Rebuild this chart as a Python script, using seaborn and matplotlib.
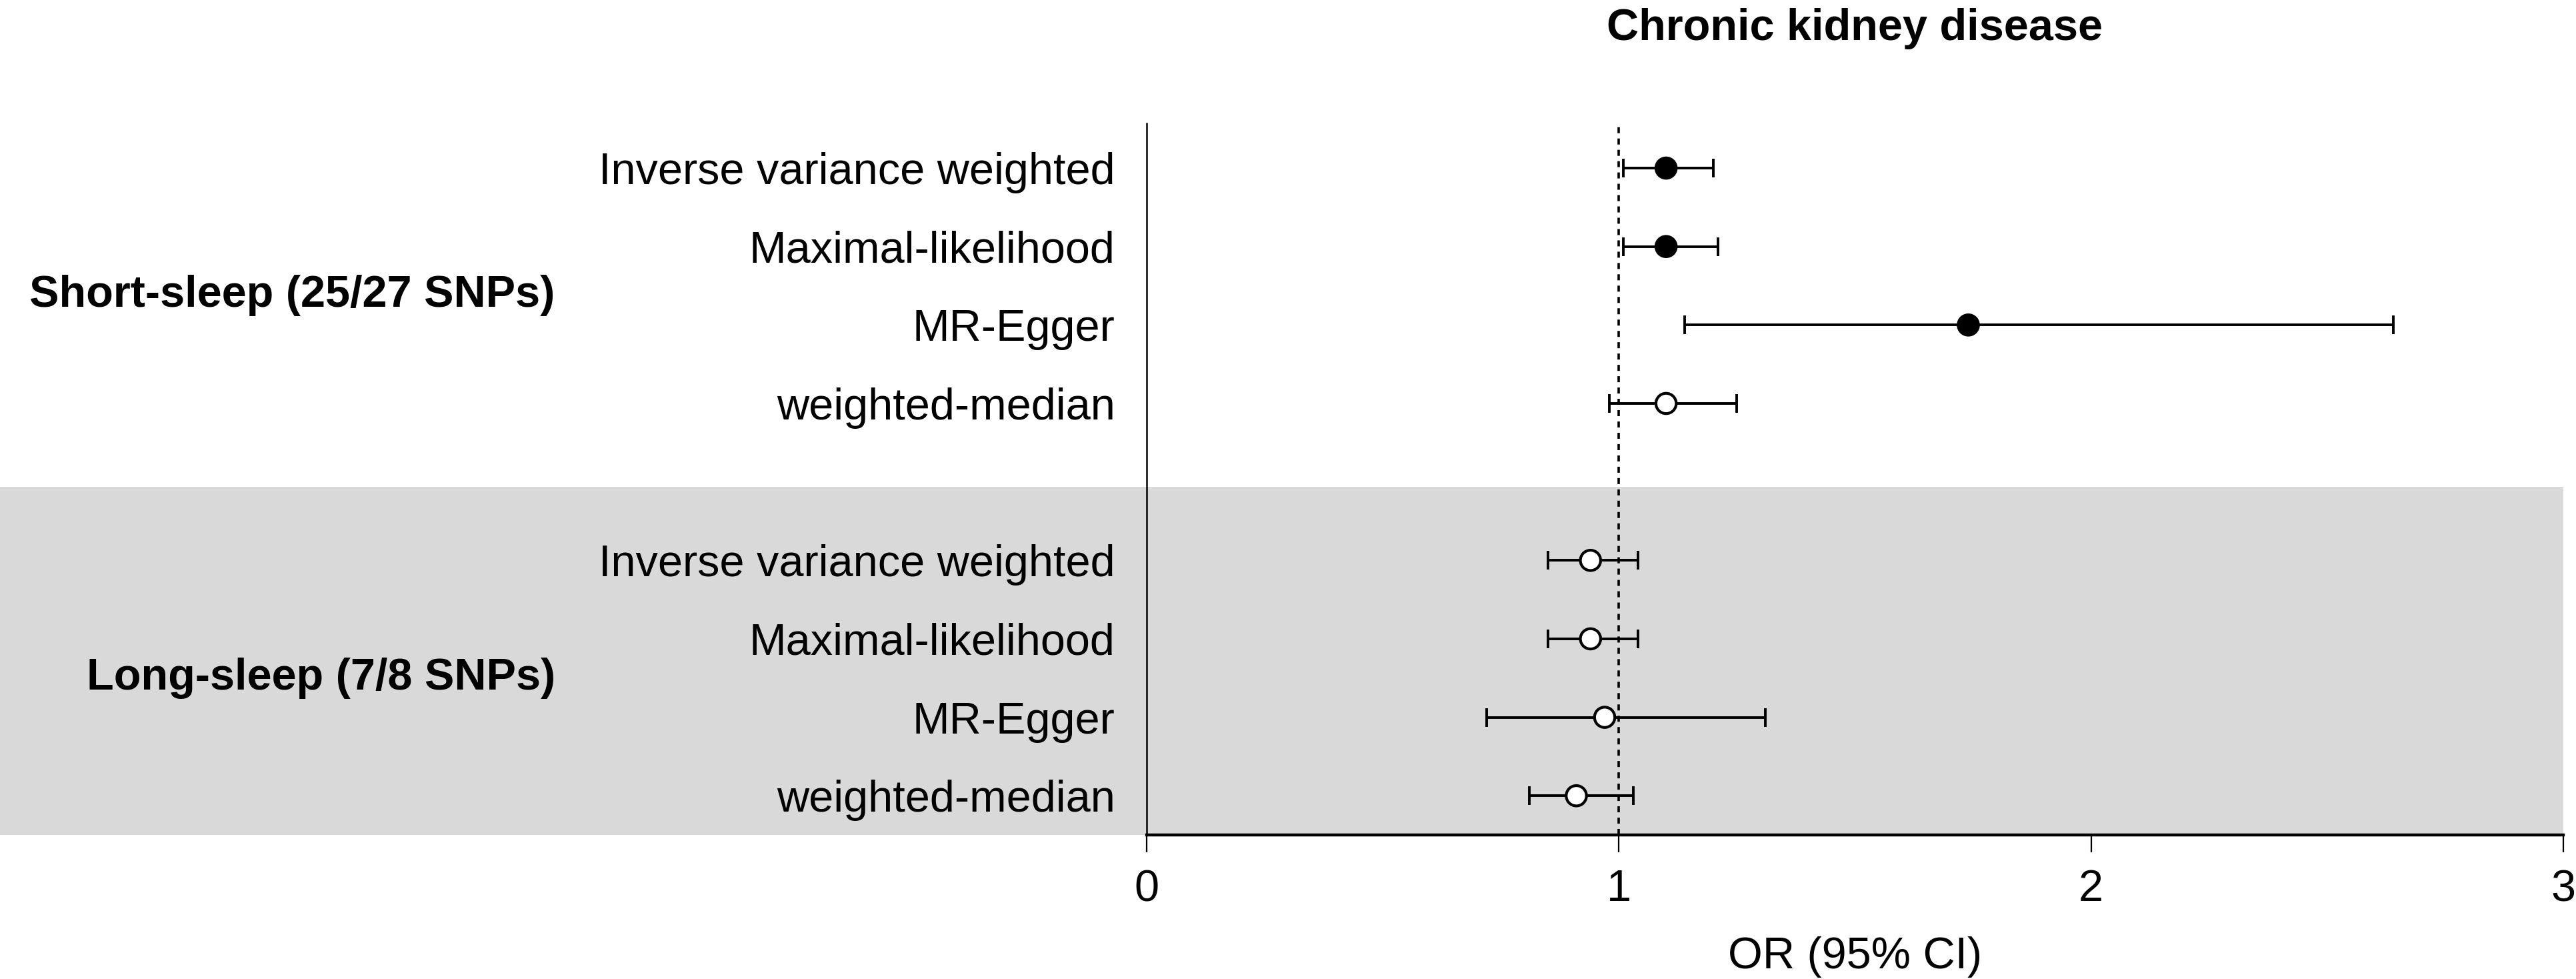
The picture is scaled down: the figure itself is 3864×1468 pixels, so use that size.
import numpy as np
import pandas as pd
import matplotlib
matplotlib.use("Agg")
import matplotlib.pyplot as plt
import seaborn as sns

methods = ["Inverse variance weighted", "Maximal-likelihood", "MR-Egger", "weighted-median"]
groups = ["Short-sleep (25/27 SNPs)", "Long-sleep (7/8 SNPs)"]

short_or = [1.10, 1.10, 1.74, 1.10]
short_lo = [1.01, 1.01, 1.14, 0.98]
short_hi = [1.20, 1.21, 2.64, 1.25]
short_sig = [True, True, True, False]

long_or = [0.94, 0.94, 0.97, 0.91]
long_lo = [0.85, 0.85, 0.72, 0.81]
long_hi = [1.04, 1.04, 1.31, 1.03]
long_sig = [False, False, False, False]

xticks = [0, 1, 2, 3]

# one blank row between the two groups
rows = []
for g, (ors, los, his, sigs) in enumerate([(short_or, short_lo, short_hi, short_sig),
                                          (long_or, long_lo, long_hi, long_sig)]):
    for i, m in enumerate(methods):
        rows.append({"group": groups[g], "method": m, "pos": g * 5 + i,
                     "OR": ors[i], "lo": los[i], "hi": his[i], "sig": sigs[i]})
df = pd.DataFrame(rows)

sns.set_theme(style="ticks")
plt.rcParams["font.family"] = ["Liberation Sans", "DejaVu Sans"]
plt.rcParams["text.color"] = "black"
plt.rcParams["axes.labelcolor"] = "black"
plt.rcParams["xtick.color"] = "black"
plt.rcParams["ytick.color"] = "black"

fig = plt.figure(figsize=(19.32, 7.34), dpi=200)
ax = fig.add_axes([0.4451, 0.1471, 0.55, 0.7269])

# grey band behind the long-sleep group, running out to the left edge
ax.axhspan(4.06, 8.5, xmin=-0.82, xmax=1.0, color="#d9d9d9", lw=0, zorder=0, clip_on=False)

ax.axvline(1, color="black", lw=1.3, ls=(0, (2.5, 2.2)), zorder=1)

ax.errorbar(df["OR"], df["pos"], xerr=[df["OR"] - df["lo"], df["hi"] - df["OR"]],
            fmt="none", ecolor="black", elinewidth=1.4, capsize=5.2, capthick=1.4, zorder=2)

sns.scatterplot(data=df, x="OR", y="pos", hue="sig", palette={True: "black", False: "white"},
                edgecolor="black", linewidth=1.5, s=120, legend=False, zorder=3, ax=ax)

ax.set_xlim(0, 3)
ax.set_ylim(8.5, -0.57)
ax.set_xticks(xticks)
ax.set_yticks(df["pos"], df["method"])
ax.tick_params(axis="y", length=0, pad=17, labelsize=24)
ax.tick_params(axis="x", length=9.4, width=0.8, pad=9, labelsize=24)

sns.despine(ax=ax)
ax.spines["left"].set_linewidth(0.9)
ax.spines["bottom"].set_linewidth(1.6)
ax.spines["left"].set_color("black")
ax.spines["bottom"].set_color("black")

label_pos = [1.62, 6.5]
for g, grp in enumerate(groups):
    ax.text(-0.4174, label_pos[g], grp, transform=ax.get_yaxis_transform(),
            ha="right", va="center", fontsize=24, fontweight="bold", zorder=4)

ax.set_title("Chronic kidney disease", fontsize=24, fontweight="bold", pad=45)
ax.set_xlabel("OR (95% CI)", fontsize=24, labelpad=14)
ax.set_ylabel("")

fig.savefig("out.png", dpi=200)
